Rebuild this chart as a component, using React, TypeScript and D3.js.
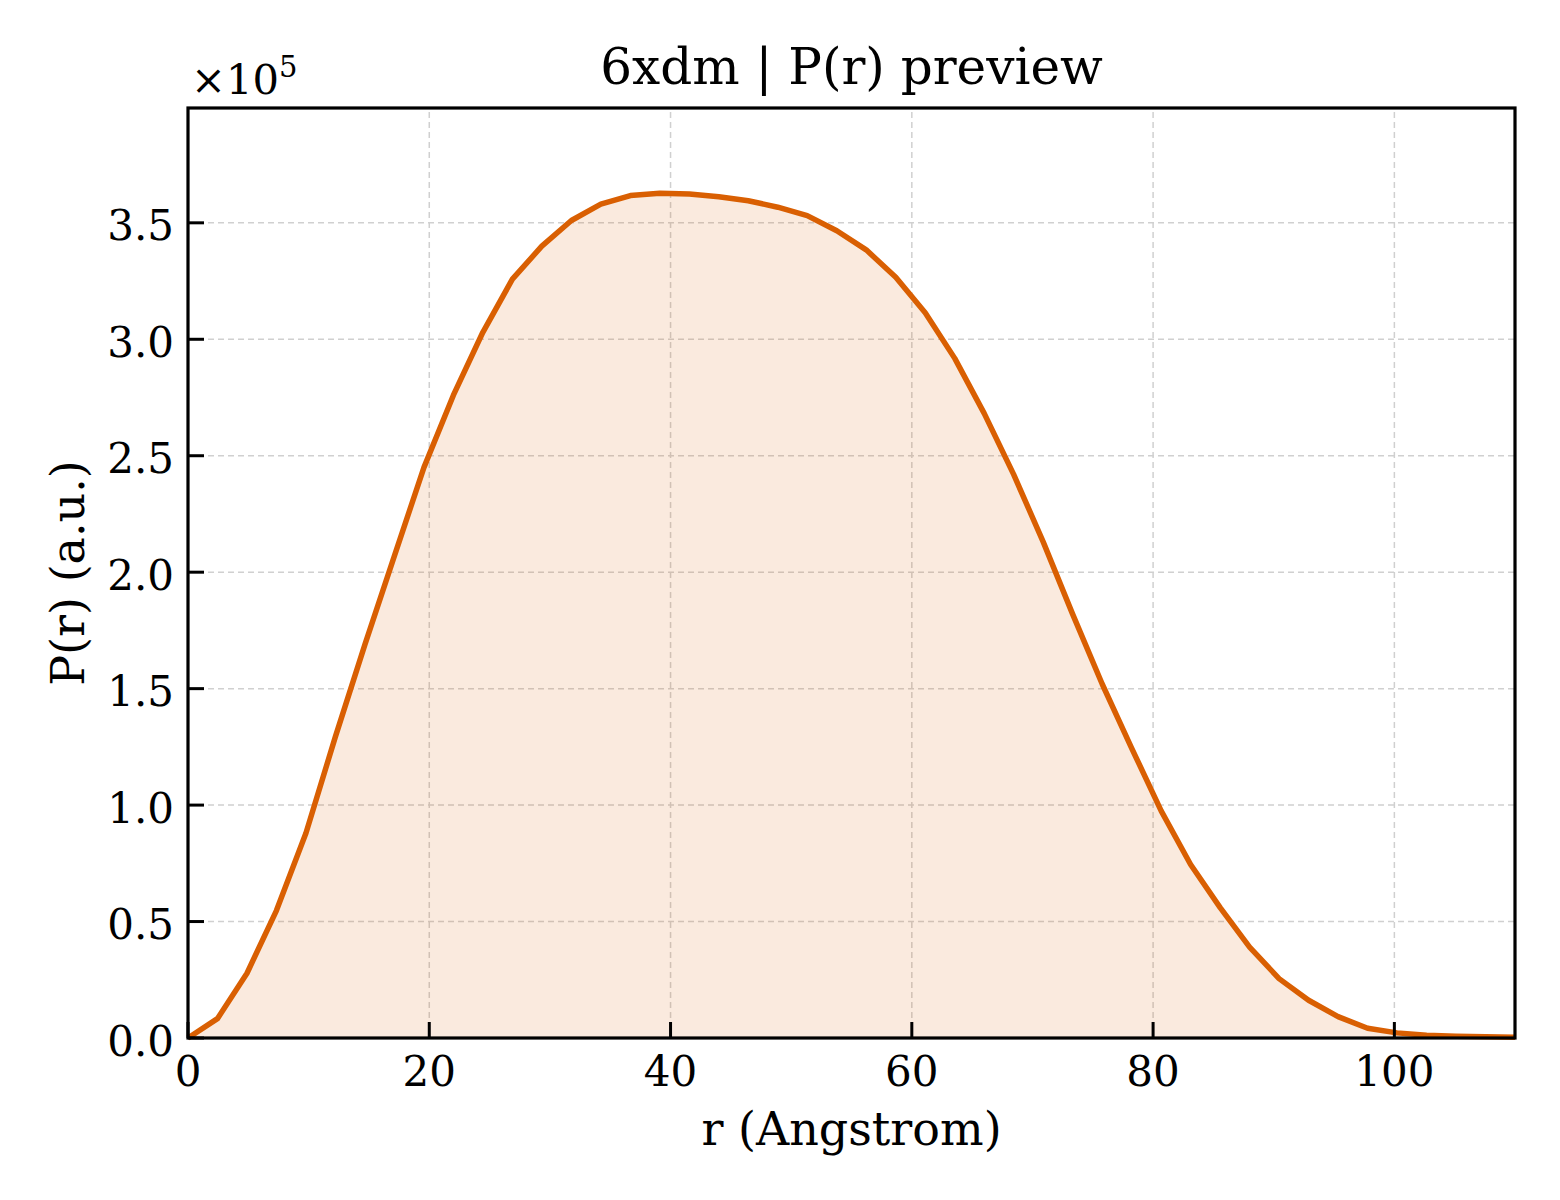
import * as d3 from "d3";

// r grid (Angstrom) and P(r) in units of 1e5
const rValues = [
  0, 2.44, 4.89, 7.33, 9.78, 12.22, 14.67, 17.11, 19.56, 22.0, 24.44, 26.89,
  29.33, 31.78, 34.22, 36.67, 39.11, 41.56, 44.0, 46.44, 48.89, 51.33, 53.78,
  56.22, 58.67, 61.11, 63.56, 66.0, 68.44, 70.89, 73.33, 75.78, 78.22, 80.67,
  83.11, 85.56, 88.0, 90.44, 92.89, 95.33, 97.78, 100.22, 102.67, 105.11,
  107.56, 110.0,
];
const prValues = [
  0, 0.083, 0.278, 0.547, 0.88, 1.294, 1.69, 2.07, 2.45, 2.76, 3.03, 3.258,
  3.4, 3.51, 3.58, 3.617, 3.627, 3.624, 3.612, 3.595, 3.567, 3.531, 3.466,
  3.384, 3.266, 3.114, 2.918, 2.682, 2.42, 2.13, 1.82, 1.52, 1.245, 0.975,
  0.745, 0.56, 0.39, 0.255, 0.162, 0.092, 0.042, 0.022, 0.012, 0.008, 0.005,
  0.003,
];

const xTicks = [0, 20, 40, 60, 80, 100];
const yTicks = [0, 0.5, 1.0, 1.5, 2.0, 2.5, 3.0, 3.5];

const W = 1560;
const H = 1200;
const margin = { top: 108, right: 45, bottom: 162, left: 188 };
const lineColor = "#d95f02";
const font = "'DejaVu Serif', serif";

export default function App() {
  const x = d3
    .scaleLinear()
    .domain([0, 110])
    .range([margin.left, W - margin.right]);
  const y = d3
    .scaleLinear()
    .domain([0, 3.993])
    .range([H - margin.bottom, margin.top]);

  const pts = rValues.map((r, i) => [r, prValues[i]] as [number, number]);
  const line = d3
    .line<[number, number]>()
    .x((d) => x(d[0]))
    .y((d) => y(d[1]));
  const area = d3
    .area<[number, number]>()
    .x((d) => x(d[0]))
    .y0(y(0))
    .y1((d) => y(d[1]));

  const x0 = margin.left;
  const x1 = W - margin.right;
  const y0 = H - margin.bottom;
  const y1 = margin.top;
  const tickLen = 16;

  return (
    <svg
      width={W}
      height={H}
      style={{ position: "absolute", left: 0, top: 0, background: "#fff" }}
      fontFamily={font}
    >
      <rect width={W} height={H} fill="#fff" />
      {/* grid */}
      <g stroke="#d0d0d0" strokeWidth={1.5} strokeDasharray="6,4">
        {xTicks.map((t) => (
          <line key={"gx" + t} x1={x(t)} x2={x(t)} y1={y0} y2={y1} />
        ))}
        {yTicks.map((t) => (
          <line key={"gy" + t} x1={x0} x2={x1} y1={y(t)} y2={y(t)} />
        ))}
      </g>
      <path d={area(pts) ?? ""} fill={lineColor} fillOpacity={0.13} />
      <path
        d={line(pts) ?? ""}
        fill="none"
        stroke={lineColor}
        strokeWidth={5.5}
        strokeLinejoin="round"
      />
      {/* ticks */}
      <g stroke="#000" strokeWidth={3}>
        {xTicks.map((t) => (
          <line key={"tx" + t} x1={x(t)} x2={x(t)} y1={y0} y2={y0 - tickLen} />
        ))}
        {yTicks.map((t) => (
          <line key={"ty" + t} x1={x0} x2={x0 + tickLen} y1={y(t)} y2={y(t)} />
        ))}
      </g>
      <rect
        x={x0}
        y={y1}
        width={x1 - x0}
        height={y0 - y1}
        fill="none"
        stroke="#000"
        strokeWidth={3.2}
      />
      {/* tick labels */}
      <g fontSize={42} fill="#000">
        {xTicks.map((t) => (
          <text key={"lx" + t} x={x(t)} y={y0 + 48} textAnchor="middle">
            {t}
          </text>
        ))}
        {yTicks.map((t) => (
          <text
            key={"ly" + t}
            x={x0 - 14}
            y={y(t) + 3}
            textAnchor="end"
            dominantBaseline="central"
          >
            {t.toFixed(1)}
          </text>
        ))}
      </g>
      <text x={x0 + 3} y={94} fontSize={41.7}>
        ×10
        <tspan fontSize={29} dy={-17}>
          5
        </tspan>
      </text>
      <text
        x={(x0 + x1) / 2}
        y={1145}
        fontSize={46}
        textAnchor="middle"
      >
        r (Angstrom)
      </text>
      <text
        transform={`translate(84,${(y0 + y1) / 2}) rotate(-90)`}
        fontSize={46}
        textAnchor="middle"
      >
        P(r) (a.u.)
      </text>
      <text x={(x0 + x1) / 2} y={84} fontSize={50} textAnchor="middle">
        6xdm | P(r) preview
      </text>
    </svg>
  );
}
